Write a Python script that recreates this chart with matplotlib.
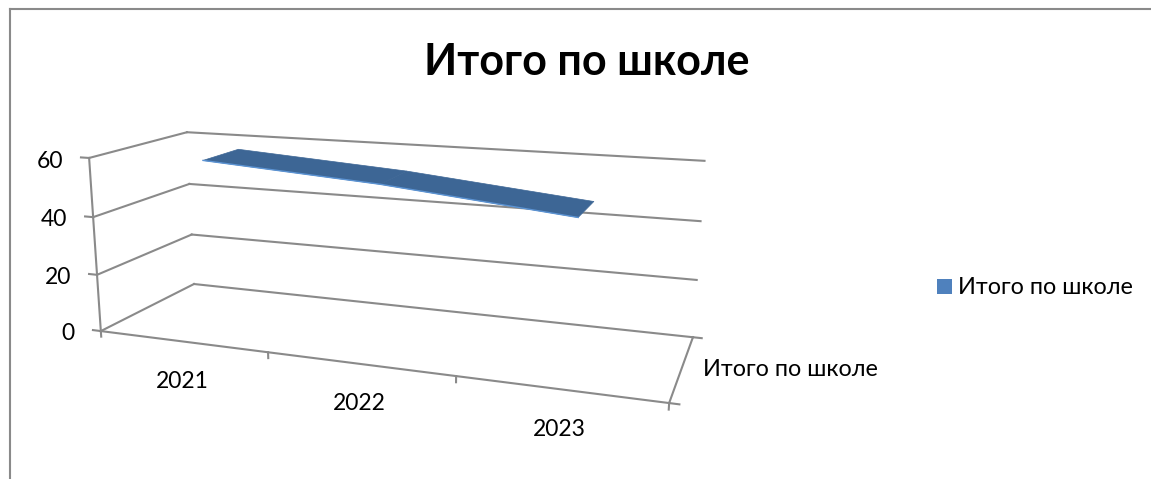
import numpy as np
import matplotlib
matplotlib.use('Agg')
import matplotlib.pyplot as plt
from matplotlib.lines import Line2D
from matplotlib.patches import Patch
from mpl_toolkits.mplot3d.art3d import Poly3DCollection

years = ['2021', '2022', '2023']
values = [58, 54, 48]
z_ticks = [0, 20, 40, 60]
series_name = 'Итого по школе'

W, H = 1151, 479
GREY = '#8a8a8a'
plt.rcParams['font.family'] = ['Lato', 'DejaVu Sans']

fig = plt.figure(figsize=(W / 100, H / 100), dpi=100)

# square 3d axes, wider than the figure height so that nothing gets clipped
S = 1151
cx, cy = 378.32, 263.99
ax = fig.add_axes([(cx - S / 2) / W, (H - cy - S / 2) / H, S / W, S / H],
                  projection='3d', computed_zorder=False)
ax.set_xlim(0, 3)
ax.set_ylim(0, 1)
ax.set_zlim(0, 60)
ax.view_init(14.059, -69.609, 0.098)
ax.set_proj_type('persp', focal_length=0.1823)
ax.set_box_aspect((1, 0.3288, 0.3139), zoom=0.5315)
ax.set_axis_off()
ax.patch.set_alpha(0)


def grid(xs, ys, zs):
    ax.plot(xs, ys, zs, color=GREY, lw=1.5, zorder=1, clip_on=False)


# walls
for z in z_ticks:
    grid([0, 0], [0, 1], [z, z])
    grid([0, 3], [1, 1], [z, z])
    grid([-0.05, 0], [0, 0], [z, z])
grid([0, 0], [0, 0], [0, 60])
grid([0, 3], [0, 0], [0, 0])
grid([3, 3], [0, 1], [0, 0])

# ticks
for x in range(4):
    grid([x, x], [0, 0], [0, -2])
for y in [0, 1]:
    grid([3, 3.045], [y, y], [0, 0])

# the ribbon
xpos = np.arange(len(values)) + 0.5
y0, y1 = 0.3, 0.7
verts = []
for i in range(len(values) - 1):
    verts.append([(xpos[i], y0, values[i]), (xpos[i + 1], y0, values[i + 1]),
                  (xpos[i + 1], y1, values[i + 1]), (xpos[i], y1, values[i])])
ax.add_collection3d(Poly3DCollection(verts, facecolor='#3d6695', edgecolor='#3d6695',
                                     linewidth=0.5, zorder=3))
ax.plot(xpos, [y0] * len(xpos), values, color='#5b93d3', lw=1, zorder=4)

# axis labels
for lab, x, y in zip(z_ticks, [68, 58, 54, 50], [334, 278, 220, 161]):
    fig.text(x / W, 1 - y / H, str(lab), fontsize=16.5, ha='center', va='center')
for lab, x, y in zip(years, [182, 359, 559], [382, 403, 429]):
    fig.text(x / W, 1 - y / H, lab, fontsize=16.5, ha='center', va='center')
fig.text(790 / W, 1 - 369 / H, series_name, fontsize=16.8, ha='center', va='center')

fig.text(587 / W, 1 - 62 / H, series_name, fontsize=31, fontweight='bold',
         ha='center', va='center')

fig.legend(handles=[Patch(facecolor='#4f81bd', edgecolor='none')], labels=[series_name],
           loc='center left', bbox_to_anchor=(937 / W, 1 - 288 / H), frameon=False,
           fontsize=16.8, handlelength=0.65, handleheight=0.65, handletextpad=0.27,
           borderpad=0, borderaxespad=0)

# outer frame, cut off by the crop on two sides
fig.add_artist(Line2D([10 / W, 10 / W], [0, 1 - 8.5 / H], color=GREY, lw=1.5))
fig.add_artist(Line2D([10 / W, 1], [1 - 8.5 / H, 1 - 8.5 / H], color=GREY, lw=1.5))

fig.savefig('out.png', dpi=100)
